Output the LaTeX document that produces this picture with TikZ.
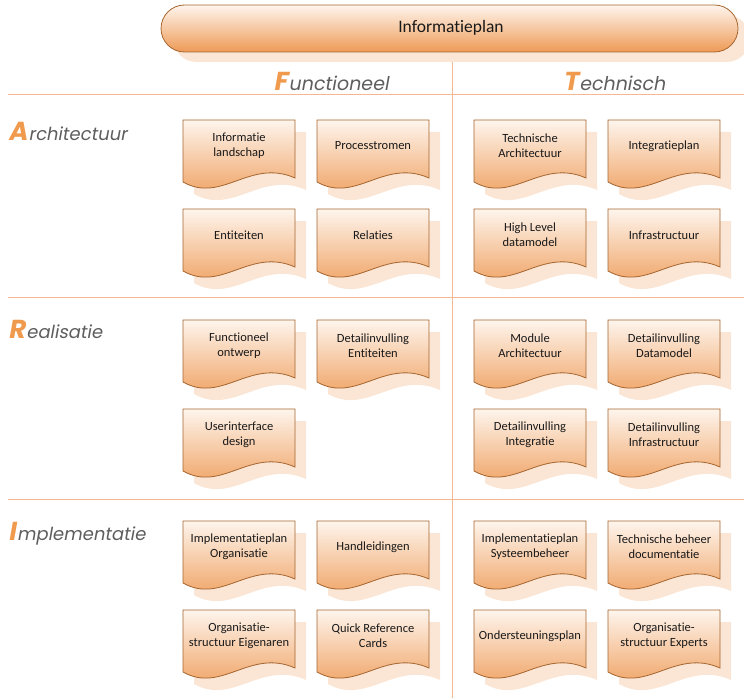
\documentclass[tikz,border=0pt]{standalone}
\usepackage{fontspec}
\setmainfont{Carlito}[Ligatures={NoCommon}]
\newfontfamily\gothic[FakeSlant=0.18]{Poppins}
\definecolor{boxtop}{HTML}{FEF5ED}
\definecolor{boxbot}{HTML}{EE9A56}
\definecolor{boxborder}{HTML}{A5652F}
\definecolor{shadowc}{HTML}{FBE6D5}
\definecolor{linec}{HTML}{F4B890}
\definecolor{letterc}{HTML}{F09A4E}
\definecolor{grayc}{HTML}{5E5E5E}
\newcommand\docshape[2]{(#1,#2) -- (#1+112,#2) -- (#1+112,#2+58) .. controls (#1+67,#2+38) and (#1+39,#2+84) .. (#1,#2+62) -- cycle}
\newcommand\docbox[4]{%
  \begin{scope}[shift={(#2,#3)}]
    \fill[shadowc] \docshape{11}{12};
    \path[boxfill] \docshape{0}{0};
    \node[boxtext] (#1) at (56,26) {#4};
  \end{scope}}
\newcommand\firstletter[1]{{\fontsize{26}{26}\selectfont\bfseries\color{letterc}#1}\kern1.2pt}
\tikzset{
  boxfill/.style={draw=boxborder, line width=0.8pt, top color=boxtop, bottom color=boxbot},
  boxtext/.style={align=center, text=black!90, font=\fontsize{12.5}{15}\selectfont, inner sep=0pt},
  gridline/.style={draw=linec, line width=1pt},
  heading/.style={anchor=base, text=grayc, font=\gothic\fontsize{19}{19}\selectfont, inner sep=0pt},
  rowhead/.style={anchor=base west, text=grayc, font=\gothic\fontsize{18}{18}\selectfont, inner sep=0pt}
}
\begin{document}
\begin{tikzpicture}[x=1pt,y=-1pt]
\useasboundingbox (0,0) rectangle (744,698);
% grid lines
\draw[gridline] (8,95) -- (744,95);
\draw[gridline] (8,297) -- (744,297);
\draw[gridline] (8,499) -- (744,499);
\draw[gridline] (452,52) -- (452,698);
% header pill
\fill[shadowc, rounded corners=23.5pt] (173,15) rectangle (750,62);
\path[boxfill, rounded corners=23.5pt] (161,5) rectangle (738,52);
\node[font=\fontsize{17.5}{20}\selectfont, text=black!90, inner sep=0pt] (plan) at (451,28) {Informatieplan};
% column headings
\node[heading] (func) at (331,91) {\firstletter{F}unctioneel};
\node[heading] (tech) at (614,91) {\firstletter{T}echnisch};
% row headings
\node[rowhead] (arch) at (8,140) {\firstletter{A}rchitectuur};
\node[rowhead] (real) at (8,338) {\firstletter{R}ealisatie};
\node[rowhead] (impl) at (8,540) {\firstletter{I}mplementatie};
% Architectuur
\docbox{a1}{183}{120}{Informatie\\landschap}
\docbox{a2}{317}{120}{Processtromen}
\docbox{a3}{183}{209}{Entiteiten}
\docbox{a4}{317}{209}{Relaties}
\docbox{a5}{474}{120}{Technische\\Architectuur}
\docbox{a6}{608}{120}{Integratieplan}
\docbox{a7}{474}{209}{High Level\\datamodel}
\docbox{a8}{608}{209}{Infrastructuur}
% Realisatie
\docbox{r1}{183}{320}{Functioneel\\ontwerp}
\docbox{r2}{317}{320}{Detailinvulling\\Entiteiten}
\docbox{r3}{183}{409}{Userinterface\\design}
\docbox{r5}{474}{320}{Module\\Architectuur}
\docbox{r6}{608}{320}{Detailinvulling\\Datamodel}
\docbox{r7}{474}{409}{Detailinvulling\\Integratie}
\docbox{r8}{608}{409}{Detailinvulling\\Infrastructuur}
% Implementatie
\docbox{i1}{183}{521}{Implementatieplan\\Organisatie}
\docbox{i2}{317}{521}{Handleidingen}
\docbox{i3}{183}{610}{Organisatie-\\structuur Eigenaren}
\docbox{i4}{317}{610}{Quick Reference\\Cards}
\docbox{i5}{474}{521}{Implementatieplan\\Systeembeheer}
\docbox{i6}{608}{521}{Technische beheer\\documentatie}
\docbox{i7}{474}{610}{Ondersteuningsplan}
\docbox{i8}{608}{610}{Organisatie-\\structuur Experts}
\end{tikzpicture}
\end{document}
